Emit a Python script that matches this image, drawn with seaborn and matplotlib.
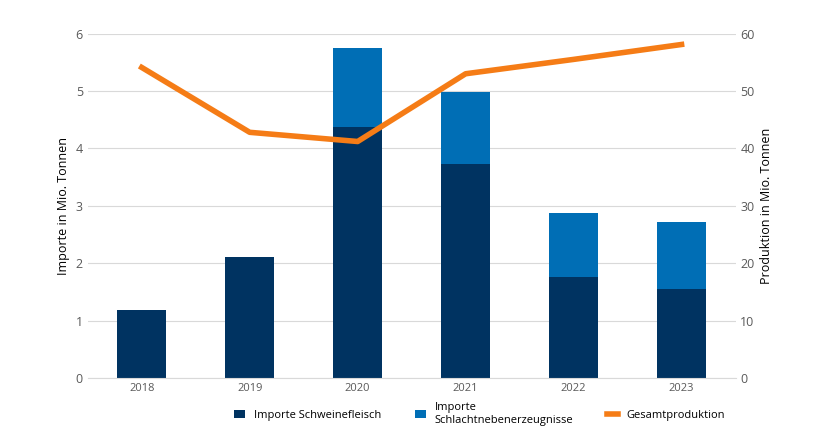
import pandas as pd
import seaborn as sns
import matplotlib.pyplot as plt
import matplotlib as mpl

mpl.rcParams['font.family'] = 'sans-serif'
mpl.rcParams['font.sans-serif'] = ['Open Sans', 'DejaVu Sans']

years = ['2018', '2019', '2020', '2021', '2022', '2023']
fleisch = [1.19, 2.11, 4.38, 3.72, 1.76, 1.55]
neben = [0.0, 0.0, 1.36, 1.27, 1.12, 1.17]
produktion = [54.1, 42.8, 41.2, 53.0, 55.5, 58.1]

df = pd.DataFrame({'year': years, 'fleisch': fleisch, 'neben': neben, 'prod': produktion})
df['total'] = df['fleisch'] + df['neben']

DARK = '#003361'
MID = '#006eb5'
ORANGE = '#f57c16'

fig = plt.figure(figsize=(8.2, 4.36), dpi=100)
ax = fig.add_axes([0.107, 0.133, 0.79, 0.79])

sns.barplot(data=df, x='year', y='total', color=MID, width=0.45, ax=ax, saturation=1, label='Importe\nSchlachtnebenerzeugnisse')
sns.barplot(data=df, x='year', y='fleisch', color=DARK, width=0.45, ax=ax, saturation=1, label='Importe Schweinefleisch')
ax.set_ylim(0, 6)
ax.set_xlim(-0.5, 5.5)
ax.set_yticks(range(7))
ax.grid(axis='y', color='#d9d9d9', lw=0.8)
ax.set_axisbelow(True)
ax.set_xlabel('')
ax.set_ylabel('Importe in Mio. Tonnen', fontsize=9)
ax.tick_params(length=0, labelsize=8, colors='#595959')
ax.tick_params(axis='y', labelsize=9)
for s in ax.spines.values():
    s.set_visible(False)
ax.spines['bottom'].set_visible(True)
ax.spines['bottom'].set_color('#d9d9d9')

ax2 = ax.twinx()
sns.lineplot(x=list(range(6)), y=df['prod'], color=ORANGE, lw=4, ax=ax2, label='Gesamtproduktion')
ax2.set_ylim(0, 60)
ax2.set_yticks(range(0, 61, 10))
ax2.set_ylabel('Produktion in Mio. Tonnen', fontsize=9)
ax2.tick_params(length=0, labelsize=9, colors='#595959')
for s in ax2.spines.values():
    s.set_visible(False)

h1, l1 = ax.get_legend_handles_labels()
h2, l2 = ax2.get_legend_handles_labels()
ax.get_legend().remove()
ax2.get_legend().remove()
fig.legend([h1[1], h1[0], h2[0]], [l1[1], l1[0], l2[0]], loc='lower center', ncol=3,
           frameon=False, fontsize=8, bbox_to_anchor=(0.585, 0.0), handlelength=1, columnspacing=3)

plt.savefig('out.png', dpi=100)
